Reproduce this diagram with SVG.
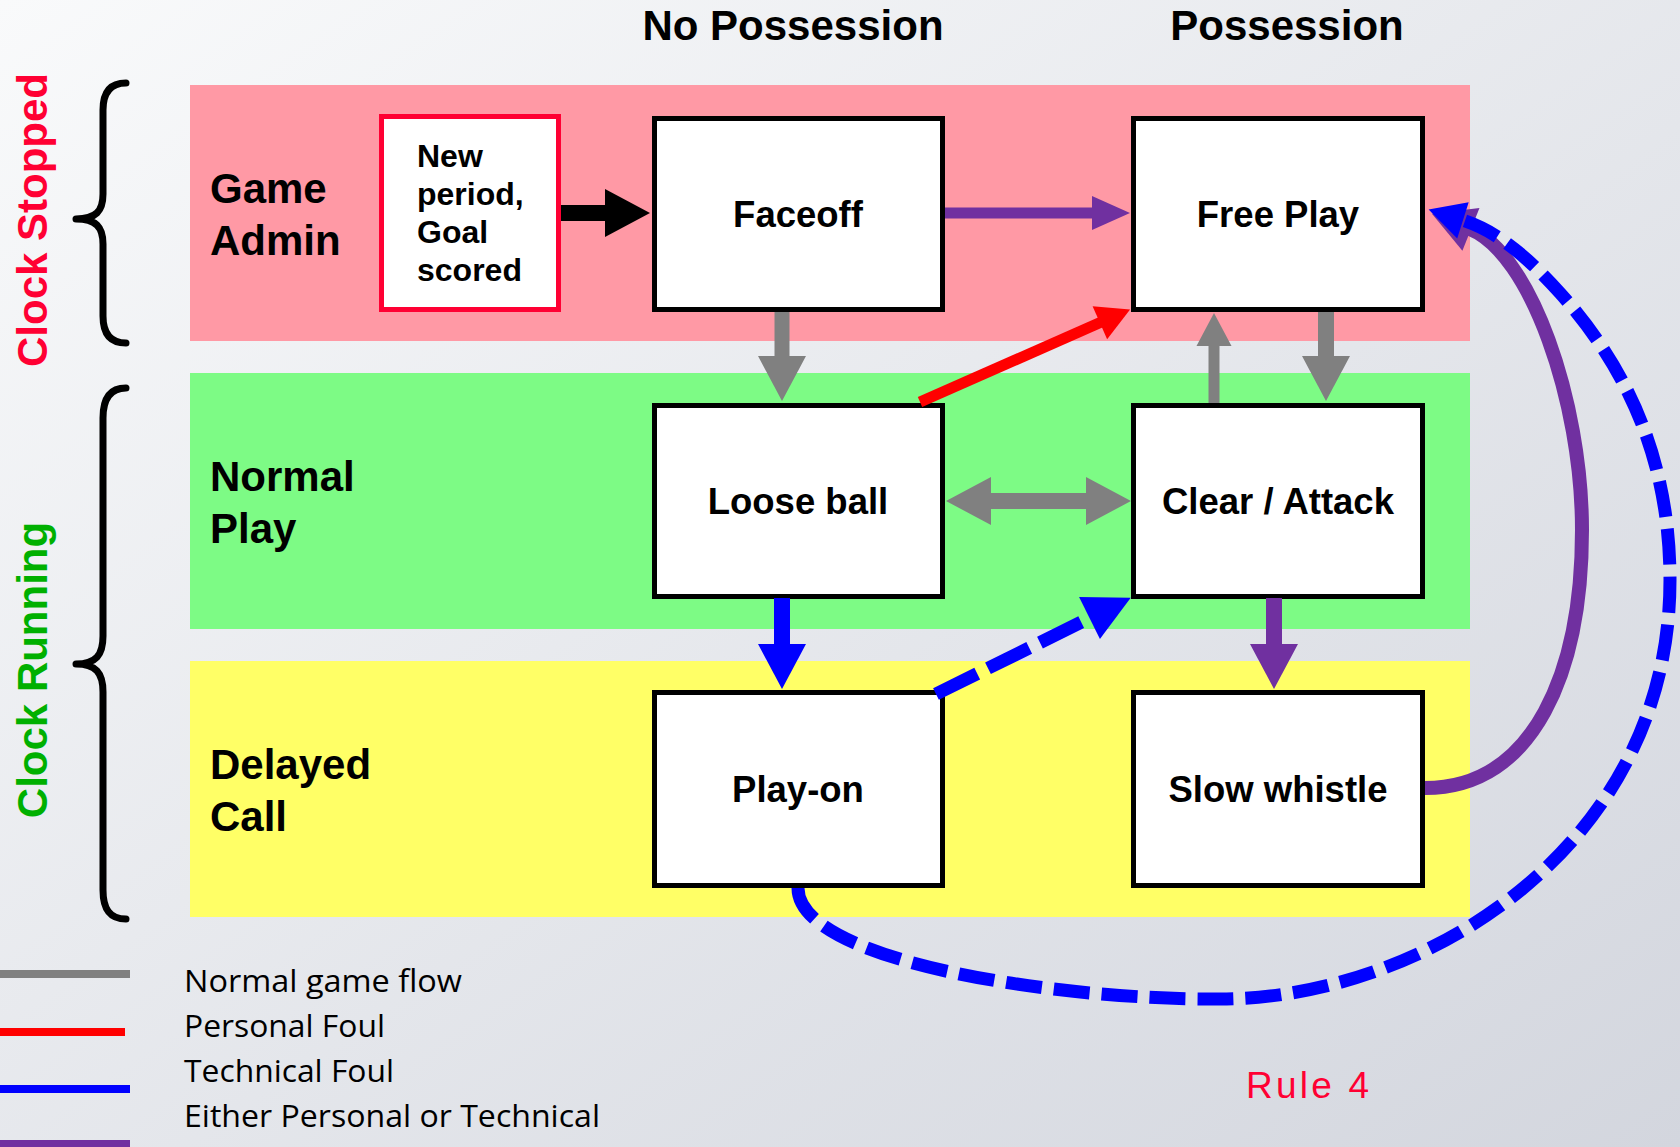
<svg xmlns="http://www.w3.org/2000/svg" width="1680" height="1147" viewBox="0 0 1680 1147">
<defs>
<linearGradient id="bg" x1="0" y1="0" x2="1" y2="1">
<stop offset="0" stop-color="#F9FAFB"/>
<stop offset="1" stop-color="#D3D6DE"/>
</linearGradient>
<marker id="mBlack" markerUnits="userSpaceOnUse" markerWidth="46" markerHeight="48" refX="1" refY="24" orient="auto" overflow="visible"><path d="M0,0 L45,24 L0,48 z" fill="#000"/></marker>
<marker id="mGrayBig" markerUnits="userSpaceOnUse" markerWidth="46" markerHeight="48" refX="1" refY="24" orient="auto" overflow="visible"><path d="M0,0 L45,24 L0,48 z" fill="#808080"/></marker>
<marker id="mGrayDbl" markerUnits="userSpaceOnUse" markerWidth="46" markerHeight="48" refX="1" refY="24" orient="auto-start-reverse" overflow="visible"><path d="M0,0 L45,24 L0,48 z" fill="#808080"/></marker>
<marker id="mGraySmall" markerUnits="userSpaceOnUse" markerWidth="34" markerHeight="35" refX="1" refY="17.5" orient="auto" overflow="visible"><path d="M0,0 L33,17.5 L0,35 z" fill="#808080"/></marker>
<marker id="mPurpleSmall" markerUnits="userSpaceOnUse" markerWidth="39" markerHeight="34" refX="1" refY="17" orient="auto" overflow="visible"><path d="M0,0 L38,17 L0,34 z" fill="#7030A0"/></marker>
<marker id="mPurpleBig" markerUnits="userSpaceOnUse" markerWidth="46" markerHeight="48" refX="1" refY="24" orient="auto" overflow="visible"><path d="M0,0 L45,24 L0,48 z" fill="#7030A0"/></marker>
<marker id="mPurpleCurve" markerUnits="userSpaceOnUse" markerWidth="43" markerHeight="46" refX="1" refY="23" orient="auto" overflow="visible"><path d="M0,0 L42,23 L0,46 z" fill="#7030A0"/></marker>
<marker id="mBlueBig" markerUnits="userSpaceOnUse" markerWidth="46" markerHeight="48" refX="1" refY="24" orient="auto" overflow="visible"><path d="M0,0 L45,24 L0,48 z" fill="#0000FF"/></marker>
<marker id="mBlueDash" markerUnits="userSpaceOnUse" markerWidth="47" markerHeight="47" refX="1" refY="23.5" orient="auto" overflow="visible"><path d="M0,0 L46,23.5 L0,47 z" fill="#0000FF"/></marker>
<marker id="mBlueCurve" markerUnits="userSpaceOnUse" markerWidth="37" markerHeight="38" refX="1" refY="19" orient="auto" overflow="visible"><path d="M0,0 L36,19 L0,38 z" fill="#0000FF"/></marker>
<marker id="mRed" markerUnits="userSpaceOnUse" markerWidth="34" markerHeight="36" refX="1" refY="18" orient="auto" overflow="visible"><path d="M0,0 L33,18 L0,36 z" fill="#FF0000"/></marker>
</defs>
<style>
.box{fill:#fff;stroke:#000;stroke-width:5}
.nt{font-family:"Liberation Sans",Arial,sans-serif;font-weight:bold;font-size:36.5px;fill:#000;text-anchor:middle}
.lane{font-family:"Liberation Sans",Arial,sans-serif;font-weight:bold;font-size:42px;fill:#000}
.np{font-family:"Liberation Sans",Arial,sans-serif;font-weight:bold;font-size:32px;fill:#000}
.title{font-family:"Liberation Sans",Arial,sans-serif;font-weight:bold;font-size:42px;fill:#000;text-anchor:middle}
.side{font-family:"Liberation Sans",Arial,sans-serif;font-weight:bold;font-size:42px;text-anchor:middle}
.leg{font-family:"Open Sans","Noto Sans",sans-serif;font-size:31px;fill:#000}
.brace{fill:none;stroke:#000;stroke-width:7;stroke-linecap:round;stroke-linejoin:round}
.c{fill:none}
</style>
<rect x="0" y="0" width="1680" height="1147" fill="url(#bg)"/>

<g id="lanes">
<rect x="190" y="85" width="1280" height="256" fill="#FF99A5"/>
<rect x="190" y="373" width="1280" height="256" fill="#7DFB85"/>
<rect x="190" y="661" width="1280" height="256" fill="#FFFF66"/>
<text class="lane" x="210" y="203">Game</text>
<text class="lane" x="210" y="255">Admin</text>
<text class="lane" x="210" y="491">Normal</text>
<text class="lane" x="210" y="543">Play</text>
<text class="lane" x="210" y="779">Delayed</text>
<text class="lane" x="210" y="831">Call</text>
</g>

<g id="titles">
<text class="title" x="793" y="40">No Possession</text>
<text class="title" x="1287" y="40">Possession</text>
</g>

<g id="clock-stopped">
<path class="brace" d="M126,83 C109,83 103,94 103,110 L103,194 C103,211 96,219 76,219 C96,219 103,227 103,244 L103,316 C103,332 109,343 126,343"/>
<text class="side" fill="#FF0033" transform="translate(47,220) rotate(-90)">Clock Stopped</text>
</g>
<g id="clock-running">
<path class="brace" d="M126,388 C109,388 103,400 103,418 L103,636 C103,655 96,664 76,664 C96,664 103,673 103,692 L103,890 C103,908 109,919 126,919"/>
<text class="side" fill="#00B000" transform="translate(47,670) rotate(-90)">Clock Running</text>
</g>

<g id="new-period">
<rect x="381.5" y="116.5" width="177" height="193" fill="#fff" stroke="#FF0033" stroke-width="5"/>
<text class="np" x="417" y="167">New</text>
<text class="np" x="417" y="205">period,</text>
<text class="np" x="417" y="243">Goal</text>
<text class="np" x="417" y="281">scored</text>
</g>
<g id="faceoff"><rect class="box" x="654.5" y="118.5" width="288" height="191"/><text class="nt" x="798" y="227">Faceoff</text></g>
<g id="free-play"><rect class="box" x="1133.5" y="118.5" width="289" height="191"/><text class="nt" x="1278" y="227">Free Play</text></g>
<g id="loose-ball"><rect class="box" x="654.5" y="405.5" width="288" height="191"/><text class="nt" x="798" y="514">Loose ball</text></g>
<g id="clear-attack"><rect class="box" x="1133.5" y="405.5" width="289" height="191"/><text class="nt" x="1278" y="514">Clear / Attack</text></g>
<g id="play-on"><rect class="box" x="654.5" y="692.5" width="288" height="193"/><text class="nt" x="798" y="802">Play-on</text></g>
<g id="slow-whistle"><rect class="box" x="1133.5" y="692.5" width="289" height="193"/><text class="nt" x="1278" y="802">Slow whistle</text></g>

<g id="connectors">
<path class="c" d="M561,213 H606" stroke="#000" stroke-width="16" marker-end="url(#mBlack)"/>
<path class="c" d="M945,213 H1093" stroke="#7030A0" stroke-width="11" marker-end="url(#mPurpleSmall)"/>
<path class="c" d="M782,312 V357" stroke="#808080" stroke-width="15" marker-end="url(#mGrayBig)"/>
<path class="c" d="M1214,403 V345" stroke="#808080" stroke-width="11" marker-end="url(#mGraySmall)"/>
<path class="c" d="M1326,312 V357" stroke="#808080" stroke-width="16" marker-end="url(#mGrayBig)"/>
<path class="c" d="M990,501 H1087" stroke="#808080" stroke-width="16" marker-start="url(#mGrayDbl)" marker-end="url(#mGrayDbl)"/>
<path class="c" d="M920,402 L1100.8,322.3" stroke="#FF0000" stroke-width="11" marker-end="url(#mRed)"/>
<path class="c" d="M782,598 V645" stroke="#0000FF" stroke-width="16" marker-end="url(#mBlueBig)"/>
<path class="c" d="M1274,598 V645" stroke="#7030A0" stroke-width="16" marker-end="url(#mPurpleBig)"/>
<path class="c" d="M936,694 L1090.4,617.6" stroke="#0000FF" stroke-width="13" stroke-dasharray="46 12" marker-end="url(#mBlueDash)"/>
<path class="c" d="M1425,788 C1535,788 1582,670 1582,530 C1582,400 1530,253 1470,229" stroke="#7030A0" stroke-width="14" marker-end="url(#mPurpleCurve)"/>
<path class="c" d="M798,888 C798,960 1050,1000 1220,999 C1420,999 1670,850 1670,580 C1670,450 1620,360 1560,293 C1530,260 1500,232 1462,220" stroke="#0000FF" stroke-width="13" stroke-dasharray="36 12" marker-end="url(#mBlueCurve)"/>
</g>

<g id="legend">
<rect x="0" y="970" width="130" height="8" fill="#808080"/>
<rect x="0" y="1028" width="125" height="8" fill="#FF0000"/>
<rect x="0" y="1085" width="130" height="8" fill="#0000FF"/>
<rect x="0" y="1140" width="130" height="8" fill="#7030A0"/>
<text class="leg" x="184" y="992" textLength="278" lengthAdjust="spacingAndGlyphs">Normal game flow</text>
<text class="leg" x="184" y="1037" textLength="201" lengthAdjust="spacingAndGlyphs">Personal Foul</text>
<text class="leg" x="184" y="1082" textLength="210" lengthAdjust="spacingAndGlyphs">Technical Foul</text>
<text class="leg" x="184" y="1127" textLength="416" lengthAdjust="spacingAndGlyphs">Either Personal or Technical</text>
</g>
<text x="1246" y="1098" font-family="Liberation Sans, Arial, sans-serif" font-size="37" fill="#FF0033" textLength="123">Rule 4</text>
</svg>
